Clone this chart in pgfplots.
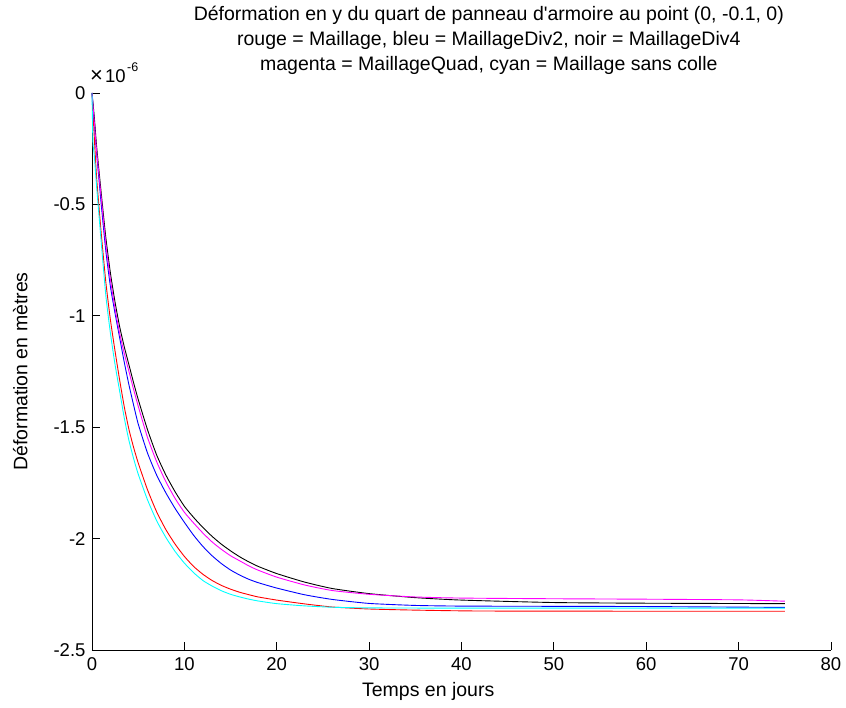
\documentclass[border=0pt]{standalone}
\usepackage{fontspec}
\setmainfont{Liberation Sans}
\usepackage{pgfplots}
\pgfplotsset{compat=1.18}
\definecolor{mred}{rgb}{1,0,0}
\definecolor{mblue}{rgb}{0,0,1}
\definecolor{mmag}{rgb}{1,0,1}
\definecolor{mcyan}{rgb}{0,1,1}
\begin{document}
\begin{tikzpicture}
\path[use as bounding box] (-92pt,-58pt) rectangle (754pt,650pt);
\begin{axis}[
  scale only axis, width=739pt, height=557pt,
  at={(0,0)}, anchor=south west,
  xmin=0, xmax=80, ymin=-2.5, ymax=0,
  axis x line*=bottom, axis y line*=left,
  tick align=inside, major tick length=8pt,
  xtick={0,10,...,80},
  xticklabels={0,10,20,30,40,50,60,70,80},
  ytick={-2.5,-2,-1.5,-1,-0.5,0},
  yticklabels={-2.5,-2,-1.5,-1,-0.5,0},
  every tick/.style={black, line width=0.9pt},
  axis line style={black, line width=0.9pt},
  tick label style={font=\fontsize{18.5}{20}\selectfont},
  xticklabel style={yshift=-4pt},
  yticklabel style={xshift=-3pt},
  /pgf/number format/assume math mode=true,
  clip=false,
  every axis plot/.append style={line width=0.9pt, no markers, smooth, tension=0.35},
]
% red = Maillage
\addplot[color=mred] coordinates {
(0,0) (0.25,-0.20) (0.5,-0.38) (1,-0.63) (1.5,-0.85) (2,-1.02) (2.5,-1.16) (3,-1.29)
(3.5,-1.41) (4,-1.51) (4.5,-1.59) (5,-1.66) (6,-1.78) (7,-1.88) (8,-1.96) (9,-2.025)
(10,-2.08) (11,-2.125) (12,-2.16) (13,-2.188) (14,-2.21) (15,-2.227) (16,-2.241)
(17,-2.252) (18,-2.262) (20,-2.276) (23,-2.293) (26,-2.307) (30,-2.316)
(35,-2.321) (42,-2.325) (60,-2.326) (75,-2.326)};
% blue = MaillageDiv2
\addplot[color=mblue] coordinates {
(0,0) (0.25,-0.13) (0.5,-0.27) (1,-0.50) (1.5,-0.71) (2,-0.87) (2.5,-0.99) (3,-1.10)
(3.5,-1.21) (4,-1.31) (4.5,-1.40) (5,-1.485) (6,-1.615) (7,-1.715) (8,-1.795) (9,-1.865)
(10,-1.927) (11,-1.985) (12,-2.035) (13,-2.077) (14,-2.112) (15,-2.141) (16,-2.164)
(17,-2.183) (18,-2.198) (20,-2.222) (23,-2.252) (26,-2.273) (30,-2.291)
(35,-2.300) (40,-2.303) (50,-2.304) (60,-2.305) (75,-2.309)};
% black = MaillageDiv4
\addplot[color=black] coordinates {
(0,0) (0.25,-0.11) (0.5,-0.24) (1,-0.45) (1.5,-0.65) (2,-0.81) (2.5,-0.94) (3,-1.05)
(3.5,-1.14) (4,-1.22) (4.5,-1.30) (5,-1.375) (6,-1.51) (7,-1.625) (8,-1.715) (9,-1.79)
(10,-1.855) (11,-1.905) (12,-1.95) (13,-1.99) (14,-2.025) (15,-2.055) (16,-2.082)
(17,-2.105) (18,-2.125) (20,-2.157) (23,-2.195) (26,-2.224) (30,-2.247)
(35,-2.265) (40,-2.276) (50,-2.287) (60,-2.290) (75,-2.292)};
% magenta = MaillageQuad
\addplot[color=mmag] coordinates {
(0,0) (0.25,-0.13) (0.5,-0.26) (1,-0.47) (1.5,-0.68) (2,-0.84) (2.5,-0.97) (3,-1.08)
(3.5,-1.17) (4,-1.25) (4.5,-1.33) (5,-1.405) (6,-1.545) (7,-1.655) (8,-1.745) (9,-1.82)
(10,-1.882) (11,-1.93) (12,-1.975) (13,-2.015) (14,-2.048) (15,-2.077) (16,-2.10)
(17,-2.123) (18,-2.142) (20,-2.173) (23,-2.208) (26,-2.233) (30,-2.250)
(35,-2.262) (40,-2.267) (50,-2.270) (60,-2.272) (70,-2.275) (75,-2.281)};
% cyan = Maillage sans colle
\addplot[color=mcyan] coordinates {
(0,0) (0.1,-0.22) (0.25,-0.28) (0.5,-0.42) (1,-0.67) (1.5,-0.91) (2,-1.08) (2.5,-1.22)
(3,-1.34) (3.5,-1.46) (4,-1.56) (4.5,-1.64) (5,-1.71) (6,-1.825) (7,-1.92) (8,-1.995)
(9,-2.058) (10,-2.11) (11,-2.153) (12,-2.188) (13,-2.213) (14,-2.234) (15,-2.25)
(16,-2.262) (17,-2.272) (18,-2.28) (20,-2.292) (23,-2.302) (26,-2.308)
(30,-2.311) (40,-2.312) (75,-2.312)};
\node[anchor=base, inner sep=0, font=\fontsize{19.5}{22}\selectfont] at (axis description cs:0.537,1.1293) {Déformation en y du quart de panneau d\textquotesingle armoire au point (0, -0.1, 0)};
\node[anchor=base, inner sep=0, font=\fontsize{19.5}{22}\selectfont] at (axis description cs:0.537,1.0844) {rouge = Maillage, bleu = MaillageDiv2, noir = MaillageDiv4};
\node[anchor=base, inner sep=0, font=\fontsize{19.5}{22}\selectfont] at (axis description cs:0.537,1.0395) {magenta = MaillageQuad, cyan = Maillage sans colle};
\node[anchor=base, inner sep=0, font=\fontsize{19.5}{22}\selectfont] at (axis description cs:0.455,-0.0826) {Temps en jours};
\node[anchor=center, inner sep=0, rotate=90, font=\fontsize{19.5}{22}\selectfont] at (axis description cs:-0.097,0.5) {Déformation en mètres};
\node[anchor=base west, inner sep=0, font=\fontsize{18.5}{20}\selectfont] at (axis description cs:-0.0027,1.018) {{\fontsize{22}{22}\selectfont ×}\kern2pt 10\kern1.5pt\raisebox{0.6em}{\fontsize{12.5}{12}\selectfont -6}};
\end{axis}
\end{tikzpicture}
\end{document}
